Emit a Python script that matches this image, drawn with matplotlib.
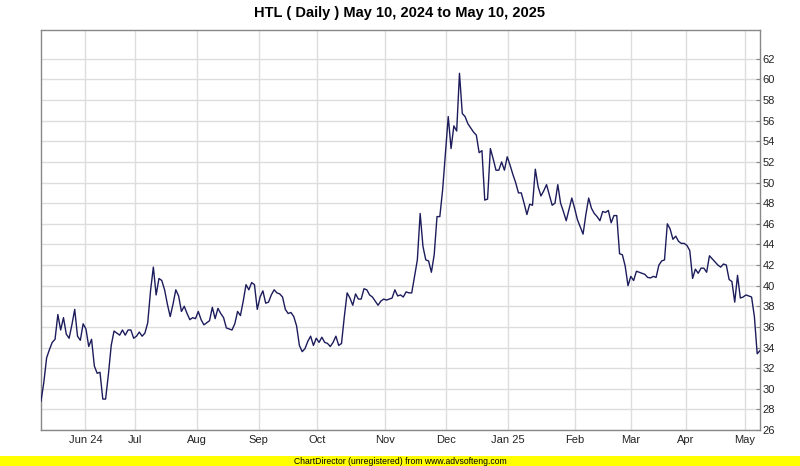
import matplotlib
matplotlib.use('Agg')
import matplotlib.pyplot as plt
from matplotlib.patches import Rectangle

plt.rcParams['font.family'] = ['Liberation Sans', 'DejaVu Sans']

title = "HTL ( Daily ) May 10, 2024 to May 10, 2025"
footer = "ChartDirector (unregistered) from www.advsofteng.com"

prices = [
    28.8, 30.6, 33.0, 33.8, 34.5, 34.8, 37.2, 35.7, 36.9, 35.3,
    34.9, 36.2, 37.7, 35.1, 34.7, 36.3, 35.8, 34.1, 34.8, 32.2,
    31.5, 31.6, 29.0, 29.0, 31.4, 34.2, 35.6, 35.4, 35.2, 35.7,
    35.2, 35.7, 35.7, 34.9, 35.1, 35.5, 35.1, 35.4, 36.4, 39.5,
    41.8, 39.1, 40.7, 40.5, 39.6, 38.2, 37.0, 38.2, 39.6, 39.0,
    37.5, 38.0, 37.3, 36.7, 36.9, 36.8, 37.5, 36.7, 36.2, 36.4,
    36.6, 37.9, 36.8, 37.8, 37.3, 36.9, 35.9, 35.8, 35.7, 36.3,
    37.5, 37.1, 38.5, 40.1, 39.6, 40.3, 40.1, 37.7, 38.9, 39.5,
    38.3, 38.4, 39.1, 39.6, 39.3, 39.2, 38.9, 37.7, 37.3, 37.4,
    37.0, 36.1, 34.2, 33.6, 33.9, 34.6, 35.1, 34.2, 34.9, 34.5,
    35.0, 34.5, 34.4, 34.1, 34.5, 35.1, 34.2, 34.4, 37.0, 39.3,
    38.8, 38.1, 39.2, 38.7, 38.7, 39.7, 39.6, 39.1, 38.9, 38.5,
    38.1, 38.5, 38.7, 38.6, 38.7, 38.8, 39.6, 39.0, 39.1, 38.9,
    39.4, 39.3, 39.3, 40.9, 42.5, 47.0, 43.8, 42.5, 42.4, 41.3,
    43.0, 46.7, 46.7, 49.3, 52.9, 56.4, 53.3, 55.5, 55.0, 60.6,
    56.7, 56.4, 55.7, 55.3, 54.9, 54.6, 52.9, 53.1, 48.3, 48.4,
    53.3, 52.3, 51.2, 51.2, 52.0, 51.2, 52.5, 51.7, 50.8, 50.0,
    49.0, 49.0, 48.0, 46.9, 47.9, 47.8, 51.3, 49.6, 48.7, 49.2,
    49.8, 48.8, 47.8, 48.0, 49.8, 48.0, 47.2, 46.3, 47.4, 48.5,
    47.5, 46.4, 45.7, 45.0, 46.9, 48.5, 47.5, 47.0, 46.7, 46.3,
    47.2, 47.1, 47.3, 46.1, 46.8, 46.8, 43.1, 43.0, 41.9, 40.0,
    40.9, 40.5, 41.4, 41.3, 41.2, 41.1, 40.8, 40.75, 40.9, 40.8,
    42.0, 42.4, 42.5, 46.0, 45.5, 44.5, 44.8, 44.3, 44.1, 44.1,
    43.9, 43.4, 40.7, 41.6, 41.2, 41.7, 41.7, 41.3, 42.9, 42.6,
    42.3, 42.0, 41.8, 42.1, 42.0, 40.6, 40.4, 38.4, 41.0, 38.8,
    38.9, 39.1, 39.0, 38.9, 37.0, 33.4, 33.7,
]

month_labels = ['Jun 24', 'Jul', 'Aug', 'Sep', 'Oct', 'Nov', 'Dec',
                'Jan 25', 'Feb', 'Mar', 'Apr', 'May']
month_pos = [15.8, 33.6, 55.6, 77.5, 98.4, 122.4, 144.1, 166.1,
             190.0, 210.0, 229.6, 250.6]
y_ticks = list(range(26, 63, 2))

W, H = 800, 466
fig = plt.figure(figsize=(W / 100, H / 100), dpi=100)
ax = fig.add_axes([41 / W, 36 / H, 719 / W, 400 / H])

ax.plot(range(len(prices)), prices, color='#1c1c5c', lw=1.0, zorder=3)
ax.set_xlim(0, len(prices) - 1)
ax.set_ylim(26, 64.8)

ax.set_yticks(y_ticks)
ax.set_yticklabels([str(v) for v in y_ticks])
ax.yaxis.tick_right()
ax.tick_params(axis='y', direction='in', length=3, color='#888888',
               labelsize=8, pad=2, labelcolor='#222222')

ax.set_xticks(month_pos)
ax.set_xticklabels(month_labels)
ax.tick_params(axis='x', length=0, labelsize=8, pad=3.5, labelcolor='#222222')

ax.grid(True, color='#dddddd', lw=1)
ax.set_axisbelow(True)
for s in ax.spines.values():
    s.set_color('#888888')
    s.set_linewidth(1)

fig.text(0.5, 1 - 13 / H, title, ha='center', va='center',
         fontsize=10.5, fontweight='bold')

fig.patches.append(Rectangle((0, 0), 1, 10 / H, transform=fig.transFigure,
                             facecolor='#ffff00', edgecolor='none'))
fig.text(0.5, 5 / H, footer, ha='center', va='center', fontsize=6.2,
         color='#000000')

fig.savefig('out.png', dpi=100)
